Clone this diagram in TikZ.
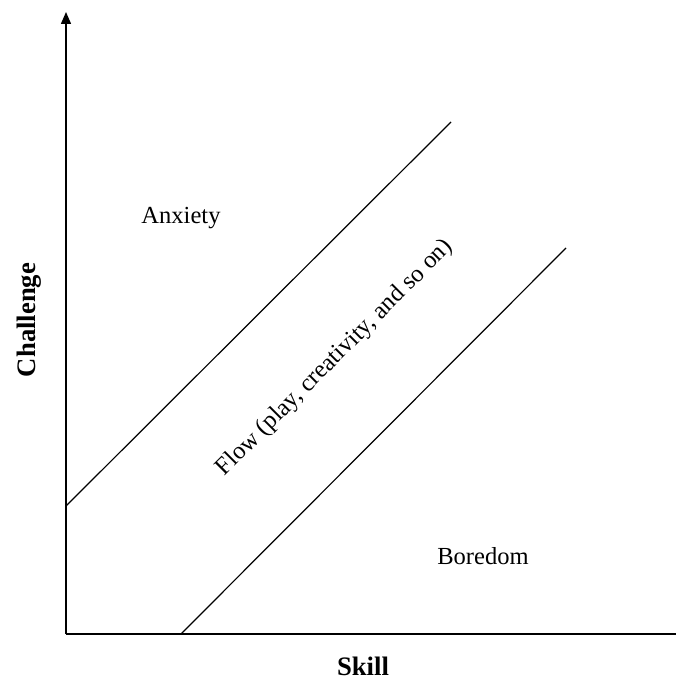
\documentclass[tikz,border=0pt]{standalone}
\usepackage{fontspec}
\setmainfont{Liberation Serif}
\usetikzlibrary{arrows.meta}
\begin{document}
\begin{tikzpicture}[x=0.75pt,y=-0.75pt,
  axis/.style={line width=1.5*0.75pt},
  diag/.style={line width=1.2*0.75pt},
  lbl/.style={inner sep=0pt,font=\fontsize{18.4pt}{22pt}\selectfont},
  axlbl/.style={inner sep=0pt,font=\fontsize{20pt}{24pt}\selectfont\bfseries}]
\useasboundingbox (0,0) rectangle (676,688);
\coordinate (o) at (66,634);
\coordinate (ytop) at (66,12);
\coordinate (xend) at (676,634);
\coordinate (u1) at (66,506);
\coordinate (u2) at (451,122);
\coordinate (l1) at (181,634);
\coordinate (l2) at (566,248);
\draw[axis,-{Triangle[length=12*0.75pt,width=10*0.75pt]}] (o) -- (ytop);
\draw[axis] (o) -- (xend);
\draw[diag] (u1) -- (u2);
\draw[diag] (l1) -- (l2);
\node[axlbl,rotate=90] (chal) at (29,320) {Challenge};
\node[axlbl] (skill) at (363,666) {Skill};
\node[lbl] (anx) at (181,218) {Anxiety};
\node[lbl] (bor) at (483,556) {Boredom};
\node[lbl,rotate=45] (flow) at (335,358) {Flow (play, creativity, and so on)};
\end{tikzpicture}
\end{document}
